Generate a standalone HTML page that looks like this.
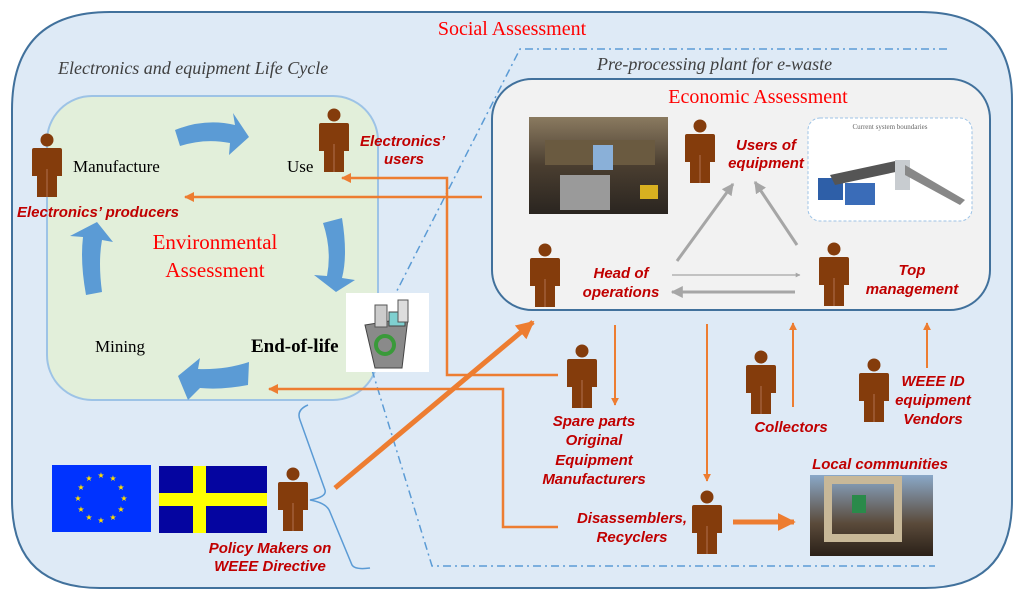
<!DOCTYPE html>
<html><head><meta charset="utf-8"><style>
html,body{margin:0;padding:0;background:#fff;width:1024px;height:591px;overflow:hidden}
svg{display:block}
.lab{font-family:"Liberation Sans",sans-serif;font-weight:bold;font-style:italic;fill:#c00000;font-size:15px}
.ser{font-family:"Liberation Serif",serif}
</style></head><body>
<svg width="1024" height="591" viewBox="0 0 1024 591" xmlns="http://www.w3.org/2000/svg">
<defs>
<g id="p">
<circle cx="0" cy="7" r="6.5" fill="#843c0c"/>
<path d="M-15 17 Q-15 15 -13 15 L13 15 Q15 15 15 17 L15 43 L10 43 L10 64 L-10 64 L-10 43 L-15 43 Z" fill="#843c0c"/>
<line x1="0" y1="36" x2="0" y2="64" stroke="#b07050" stroke-width="1"/>
</g>
<marker id="oa" viewBox="0 0 10 10" refX="9" refY="5" markerWidth="4" markerHeight="4" orient="auto"><path d="M0 0L10 5L0 10z" fill="#ed7d31"/></marker>
<marker id="ob" viewBox="0 0 10 10" refX="9" refY="5" markerWidth="18" markerHeight="18" orient="auto" markerUnits="userSpaceOnUse"><path d="M0 0L10 5L0 10z" fill="#ed7d31"/></marker>
<marker id="ga" viewBox="0 0 10 10" refX="9" refY="5" markerWidth="4" markerHeight="4" orient="auto"><path d="M0 0L10 5L0 10z" fill="#a6a6a6"/></marker>
</defs>
<path d="M110 12 L920 12 Q1012 12 1012 100 L1012 500 Q1012 588 925 588 L100 588 Q12 588 12 500 L12 110 Q12 12 110 12Z" fill="#deeaf6" stroke="#41719c" stroke-width="2"/>
<text x="512" y="35" text-anchor="middle" class="ser" font-size="20" fill="#ff0000">Social Assessment</text>
<text x="58" y="74" class="ser" font-size="18" font-style="italic" fill="#404040">Electronics and equipment Life Cycle</text>
<text x="597" y="70" class="ser" font-size="18" font-style="italic" fill="#404040">Pre-processing plant for e-waste</text>
<rect x="47" y="96" width="331" height="304" rx="45" fill="#e2efda" stroke="#9dc3e6" stroke-width="2"/>
<g stroke="#5b9bd5" stroke-width="1.5" fill="none" stroke-dasharray="8 4 2 4">
<path d="M947 49 L520 49 L378 328"/>
<path d="M372 370 L432 566 L935 566"/>
</g>
<rect x="492" y="79" width="498" height="231" rx="40" fill="#f2f2f2" stroke="#41719c" stroke-width="2"/>
<text x="758" y="103" text-anchor="middle" class="ser" font-size="20" fill="#ff0000">Economic Assessment</text>
<g fill="#5b9bd5">
<path d="M175 130 Q205 118 235 125 L233 113 L249 137 L229 155 L230 143 Q205 138 180 146Z"/>
<path d="M323 223 L342 218 Q348 255 342 278 L355 280 L336 292 L314 275 L327 276 Q332 250 323 223Z"/>
<path d="M249 362 L248 385 Q222 390 200 388 L188 400 L178 376 L200 358 L198 369 Q225 370 249 362Z"/>
<path d="M86 295 L102 292 Q98 262 102 240 L113 242 L97 222 L70 236 L83 237 Q80 262 86 295Z"/>
</g>
<text x="73" y="172" class="ser" font-size="17">Manufacture</text>
<text x="287" y="172" class="ser" font-size="17">Use</text>
<text x="95" y="352" class="ser" font-size="17">Mining</text>
<text x="251" y="352" class="ser" font-size="19" font-weight="bold">End-of-life</text>
<text x="215" y="249" text-anchor="middle" class="ser" font-size="21" fill="#ff0000">Environmental</text>
<text x="215" y="277" text-anchor="middle" class="ser" font-size="21" fill="#ff0000">Assessment</text>
<rect x="346" y="293" width="83" height="79" fill="#fff"/>
<path d="M365 325 L408 318 L402 368 L375 368Z" fill="#8a8a8a" stroke="#444"/>
<rect x="375" y="305" width="12" height="22" fill="#ccc" stroke="#555"/>
<rect x="389" y="312" width="16" height="14" fill="#7fd0d0" stroke="#444"/>
<rect x="398" y="300" width="10" height="22" fill="#ddd" stroke="#555"/>
<circle cx="385" cy="345" r="9" fill="none" stroke="#3a9a3a" stroke-width="4"/>
<g stroke="#ed7d31" stroke-width="2.5" fill="none">
<path d="M558 375 L447 375 L447 178 L342 178" marker-end="url(#oa)"/>
<path d="M482 197 L185 197" marker-end="url(#oa)"/>
<path d="M558 527 L503 527 L503 389 L269 389" marker-end="url(#oa)"/>
<path d="M615 325 L615 405" stroke-width="2" marker-end="url(#oa)"/>
<path d="M707 324 L707 481" stroke-width="2" marker-end="url(#oa)"/>
<path d="M793 407 L793 323" stroke-width="2" marker-end="url(#oa)"/>
<path d="M927 368 L927 323" stroke-width="2" marker-end="url(#oa)"/>
<path d="M335 488 L533 322" stroke-width="5" marker-end="url(#ob)"/>
<path d="M733 522 L794 522" stroke-width="5" marker-end="url(#ob)"/>
</g>
<g stroke="#a6a6a6" fill="none">
<path d="M677 261 L733 184" stroke-width="3" marker-end="url(#ga)"/>
<path d="M797 245 L755 182" stroke-width="3" marker-end="url(#ga)"/>
<path d="M672 275 L800 275" stroke-width="1.2" marker-end="url(#ga)"/>
<path d="M795 292 L672 292" stroke-width="3" marker-end="url(#ga)"/>
</g>
<path d="M308 405 Q296 410 300 420 L325 490 Q327 497 310 500 Q327 503 330 512 L352 565 Q355 570 370 568" fill="none" stroke="#5b9bd5" stroke-width="1.5"/>
<defs><linearGradient id="fg" x1="0" y1="0" x2="0" y2="1"><stop offset="0" stop-color="#8a7a60"/><stop offset="0.5" stop-color="#4a3e30"/><stop offset="1" stop-color="#2a2520"/></linearGradient>
<linearGradient id="lg" x1="0" y1="0" x2="0" y2="1"><stop offset="0" stop-color="#8aa8c8"/><stop offset="0.6" stop-color="#5a4a3a"/><stop offset="1" stop-color="#2a2018"/></linearGradient></defs>
<rect x="529" y="117" width="139" height="97" fill="url(#fg)"/>
<rect x="545" y="140" width="110" height="25" fill="#6a5a40"/>
<rect x="560" y="175" width="50" height="35" fill="#9a9a9a"/>
<rect x="593" y="145" width="20" height="25" fill="#8ab0d8"/>
<rect x="640" y="185" width="18" height="14" fill="#d8b020"/>
<rect x="808" y="118" width="164" height="103" rx="12" fill="#fff" stroke="#9dc3e6" stroke-dasharray="3 2"/>
<text x="890" y="129" text-anchor="middle" class="ser" font-size="7" fill="#666">Current system boundaries</text>
<rect x="818" y="178" width="25" height="22" fill="#2e5fa8"/><rect x="845" y="183" width="30" height="22" fill="#3a6cb8"/>
<path d="M830 175 L900 160 L905 170 L835 185Z" fill="#555"/>
<rect x="895" y="160" width="15" height="30" fill="#c8ccd0"/>
<path d="M905 165 L965 200 L960 205 L905 175Z" fill="#888"/>
<rect x="810" y="475" width="123" height="81" fill="url(#lg)"/>
<rect x="828" y="480" width="70" height="58" fill="none" stroke="#c8b898" stroke-width="8"/>
<rect x="852" y="495" width="14" height="18" fill="#2a8a4a"/>
<rect x="52" y="465" width="99" height="67" fill="#0033ff"/>
<g fill="#ffdd00" font-size="8" font-family="DejaVu Sans" text-anchor="middle">
<text x="101" y="478">★</text><text x="113" y="481">★</text><text x="121" y="490">★</text><text x="124" y="501">★</text><text x="121" y="512">★</text><text x="113" y="520">★</text><text x="101" y="523">★</text><text x="89" y="520">★</text><text x="81" y="512">★</text><text x="78" y="501">★</text><text x="81" y="490">★</text><text x="89" y="481">★</text>
</g>
<rect x="159" y="466" width="108" height="67" fill="#0505a0"/>
<rect x="193" y="466" width="13" height="67" fill="#ffff00"/>
<rect x="159" y="493" width="108" height="13" fill="#ffff00"/>
<use href="#p" x="47" y="133"/>
<use href="#p" x="334" y="108"/>
<use href="#p" x="700" y="119"/>
<use href="#p" x="545" y="243"/>
<use href="#p" x="834" y="242"/>
<use href="#p" x="582" y="344"/>
<use href="#p" x="761" y="350"/>
<use href="#p" x="874" y="358"/>
<use href="#p" x="707" y="490"/>
<use href="#p" x="293" y="467"/>
<text x="360" y="146" class="lab">Electronics’</text>
<text x="384" y="164" class="lab">users</text>
<text x="17" y="217" class="lab">Electronics’ producers</text>
<text x="766" y="150" text-anchor="middle" class="lab">Users of</text>
<text x="766" y="168" text-anchor="middle" class="lab">equipment</text>
<text x="621" y="278" text-anchor="middle" class="lab">Head of</text>
<text x="621" y="297" text-anchor="middle" class="lab">operations</text>
<text x="912" y="275" text-anchor="middle" class="lab">Top</text>
<text x="912" y="294" text-anchor="middle" class="lab">management</text>
<text x="594" y="426" text-anchor="middle" class="lab">Spare parts</text>
<text x="594" y="445" text-anchor="middle" class="lab">Original</text>
<text x="594" y="465" text-anchor="middle" class="lab">Equipment</text>
<text x="594" y="484" text-anchor="middle" class="lab">Manufacturers</text>
<text x="791" y="432" text-anchor="middle" class="lab">Collectors</text>
<text x="933" y="386" text-anchor="middle" class="lab">WEEE ID</text>
<text x="933" y="405" text-anchor="middle" class="lab">equipment</text>
<text x="933" y="424" text-anchor="middle" class="lab">Vendors</text>
<text x="880" y="469" text-anchor="middle" class="lab">Local communities</text>
<text x="632" y="523" text-anchor="middle" class="lab">Disassemblers,</text>
<text x="632" y="542" text-anchor="middle" class="lab">Recyclers</text>
<text x="270" y="553" text-anchor="middle" class="lab">Policy Makers on</text>
<text x="270" y="571" text-anchor="middle" class="lab">WEEE Directive</text>
</svg>
</body></html>
